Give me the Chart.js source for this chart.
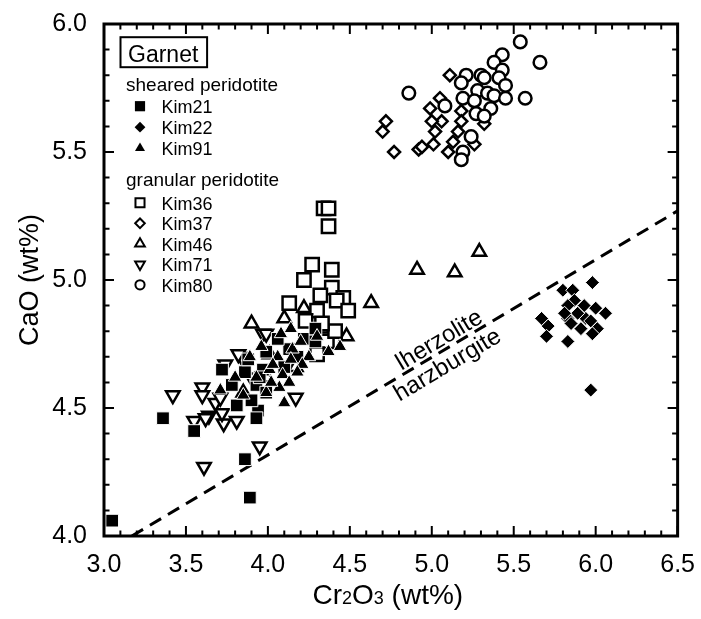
<!DOCTYPE html>
<html>
<head>
<meta charset="utf-8">
<script src="https://cdn.jsdelivr.net/npm/chart.js@4.4.1/dist/chart.umd.min.js"></script>
<style>
  html, body { margin: 0; padding: 0; background: #fff; }
</style>
</head>
<body>
<canvas id="garnetChart" width="701" height="619"></canvas>
<script>
// Garnet Cr2O3 vs CaO (wt%)

// sheared peridotite
const kim21X = [3.05, 3.36, 3.55, 3.86, 3.89, 3.72, 3.78, 3.86, 3.93, 3.97, 3.81, 3.94, 3.93, 3.99, 3.99, 3.95, 4.13, 4.22, 4.29, 4.29, 4.06, 3.90, 4.18, 3.88, 4.10];
const kim21Y = [4.06, 4.46, 4.41, 4.30, 4.15, 4.65, 4.59, 4.64, 4.59, 4.65, 4.51, 4.49, 4.46, 4.56, 4.72, 4.62, 4.73, 4.77, 4.81, 4.76, 4.77, 4.53, 4.70, 4.69, 4.66];

const kim22X = [5.98, 5.80, 5.86, 5.87, 5.83, 5.93, 6.00, 6.06, 5.67, 5.83, 5.94, 5.97, 5.71, 5.85, 5.91, 6.01, 5.70, 5.98, 5.83, 5.89, 5.81, 5.97];
const kim22Y = [4.99, 4.96, 4.96, 4.92, 4.90, 4.90, 4.89, 4.87, 4.85, 4.85, 4.85, 4.84, 4.82, 4.83, 4.81, 4.81, 4.78, 4.79, 4.76, 4.87, 4.87, 4.57];

const kim91X = [3.71, 3.89, 3.85, 4.14, 4.08, 4.37, 4.25, 4.15, 4.14, 4.21, 4.06, 4.01, 4.09, 4.18, 4.13, 4.07, 4.10, 3.99, 4.02, 3.93, 3.96, 4.20, 4.30, 4.44, 3.80, 4.03];
const kim91Y = [4.57, 4.70, 4.55, 4.81, 4.79, 4.72, 4.70, 4.73, 4.69, 4.67, 4.70, 4.65, 4.63, 4.64, 4.60, 4.58, 4.52, 4.56, 4.60, 4.62, 4.74, 4.76, 4.78, 4.74, 4.62, 4.67];

// granular peridotite
const kim36X = [4.34, 4.37, 4.37, 4.27, 4.39, 4.22, 4.39, 4.32, 4.46, 4.42, 4.49, 4.13, 4.30, 4.36, 4.23, 4.41, 4.30, 4.33];
const kim36Y = [5.28, 5.28, 5.21, 5.06, 5.04, 5.00, 4.97, 4.94, 4.93, 4.92, 4.88, 4.91, 4.88, 4.76, 4.84, 4.80, 4.71, 4.83];

const kim37X = [5.11, 5.05, 4.99, 4.72, 4.70, 5.06, 5.00, 5.18, 5.18, 5.16, 5.32, 5.02, 4.77, 4.92, 4.94, 5.01, 5.10, 5.13, 5.26];
const kim37Y = [5.80, 5.71, 5.67, 5.62, 5.58, 5.62, 5.62, 5.66, 5.62, 5.58, 5.61, 5.58, 5.50, 5.51, 5.52, 5.53, 5.50, 5.54, 5.53];

const kim46X = [3.90, 4.10, 4.22, 4.33, 4.48, 4.63, 4.91, 5.14, 5.29, 4.01, 3.85, 4.17, 3.99];
const kim46Y = [4.83, 4.85, 4.89, 4.81, 4.78, 4.91, 5.04, 5.03, 5.11, 4.71, 4.56, 4.66, 4.62];

const kim71X = [3.42, 3.60, 3.60, 3.68, 3.64, 3.55, 3.73, 3.81, 3.72, 3.95, 3.61, 3.84, 3.97, 4.17, 3.74, 3.82, 3.99, 3.71, 3.90, 3.62];
const kim71Y = [4.55, 4.58, 4.55, 4.52, 4.47, 4.45, 4.44, 4.45, 4.48, 4.35, 4.27, 4.70, 4.79, 4.54, 4.67, 4.71, 4.79, 4.54, 4.62, 4.46];

const kim80X = [5.54, 5.43, 5.66, 5.38, 5.43, 5.21, 5.30, 5.41, 5.32, 5.18, 5.45, 5.28, 4.86, 5.34, 5.38, 5.19, 5.45, 5.57, 5.26, 5.08, 5.36, 5.27, 5.32, 5.24, 5.19, 5.18];
const kim80Y = [5.93, 5.88, 5.85, 5.85, 5.82, 5.80, 5.80, 5.79, 5.79, 5.77, 5.76, 5.74, 5.73, 5.73, 5.72, 5.71, 5.71, 5.71, 5.70, 5.68, 5.67, 5.65, 5.64, 5.56, 5.50, 5.47];

// lherzolite / harzburgite boundary (end points)
const boundaryX = [3.17, 6.5];
const boundaryY = [4.0, 5.27];

// axes
const xTicks = [3.0, 3.5, 4.0, 4.5, 5.0, 5.5, 6.0, 6.5];
const xTickLabels = ['3.0', '3.5', '4.0', '4.5', '5.0', '5.5', '6.0', '6.5'];
const yTicks = [4.0, 4.5, 5.0, 5.5, 6.0];
const yTickLabels = ['4.0', '4.5', '5.0', '5.5', '6.0'];

// legend groups
const shearedNames = ['Kim21', 'Kim22', 'Kim91'];
const granularNames = ['Kim36', 'Kim37', 'Kim46', 'Kim71', 'Kim80'];

const FONT = "'Liberation Sans', Arial, Helvetica, sans-serif";

const pts = (xs, ys) => xs.map((x, i) => ({ x: x, y: ys[i] }));

// marker styles: chart markers and smaller legend markers
const styles = {
    Kim21: { pointStyle: 'rect', radius: 9.0, rotation: 0, fill: '#000', border: '#fff', bw: 1, order: 3, legR: 7.2, legBw: 0 },
    Kim22: { pointStyle: 'rectRot', radius: 7.0, rotation: 0, fill: '#000', border: '#fff', bw: 1, order: 1, legR: 5.4, legBw: 0 },
    Kim91: { pointStyle: 'triangle', radius: 7.8, rotation: 0, fill: '#000', border: '#fff', bw: 1, order: 2, legR: 5.8, legBw: 0 },
    Kim36: { pointStyle: 'rect', radius: 9.4, rotation: 0, fill: '#fff', border: '#000', bw: 2.5, order: 6, legR: 6.4, legBw: 2 },
    Kim37: { pointStyle: 'rectRot', radius: 6.0, rotation: 0, fill: '#fff', border: '#000', bw: 2.5, order: 5, legR: 4.8, legBw: 2 },
    Kim46: { pointStyle: 'triangle', radius: 7.8, rotation: 0, fill: '#fff', border: '#000', bw: 2.5, order: 8, legR: 5.6, legBw: 2 },
    Kim71: { pointStyle: 'triangle', radius: 7.8, rotation: 180, fill: '#fff', border: '#000', bw: 2.5, order: 7, legR: 5.6, legBw: 2 },
    Kim80: { pointStyle: 'circle', radius: 6.3, rotation: 0, fill: '#fff', border: '#000', bw: 2.5, order: 4, legR: 4.6, legBw: 2 }
};

const seriesData = {
    Kim21: pts(kim21X, kim21Y), Kim22: pts(kim22X, kim22Y), Kim91: pts(kim91X, kim91Y),
    Kim36: pts(kim36X, kim36Y), Kim37: pts(kim37X, kim37Y), Kim46: pts(kim46X, kim46Y),
    Kim71: pts(kim71X, kim71Y), Kim80: pts(kim80X, kim80Y)
};

function scatterSet(name) {
    const s = styles[name];
    return {
        type: 'scatter',
        label: name,
        data: seriesData[name],
        order: s.order,
        pointStyle: s.pointStyle,
        pointRadius: s.radius,
        pointHoverRadius: s.radius,
        pointRotation: s.rotation,
        pointBackgroundColor: s.fill,
        pointBorderColor: s.border,
        pointBorderWidth: s.bw,
        clip: false
    };
}

// frame with inward ticks on all four sides + x title with subscripts
const framePlugin = {
    id: 'frameTicks',
    afterDatasetsDraw(chart) {
        const { ctx, chartArea: a, scales } = chart;
        const xs = scales.x, ys = scales.y;
        ctx.save();
        ctx.strokeStyle = '#000';
        ctx.lineWidth = 2;
        ctx.beginPath();
        for (let i = 0; i <= 35; i++) {
            const px = xs.getPixelForValue(3 + i * 0.1);
            const len = i % 5 === 0 ? 10 : 5.5;
            ctx.moveTo(px, a.bottom); ctx.lineTo(px, a.bottom - len);
            ctx.moveTo(px, a.top); ctx.lineTo(px, a.top + len);
        }
        for (let i = 0; i <= 20; i++) {
            const py = ys.getPixelForValue(4 + i * 0.1);
            const len = i % 5 === 0 ? 10 : 5.5;
            ctx.moveTo(a.left, py); ctx.lineTo(a.left + len, py);
            ctx.moveTo(a.right, py); ctx.lineTo(a.right - len, py);
        }
        ctx.stroke();
        ctx.lineWidth = 3;
        ctx.strokeRect(a.left, a.top, a.right - a.left, a.bottom - a.top);

        // x axis title: Cr2O3 (wt%)
        const parts = [['Cr', 28], ['2', 18], ['O', 28], ['3', 18], [' (wt%)', 28]];
        let total = 0;
        parts.forEach(p => { ctx.font = `${p[1]}px ${FONT}`; total += ctx.measureText(p[0]).width; });
        let tx = (a.left + a.right) / 2 - total / 2 - 3;
        const ty = 604;
        ctx.fillStyle = '#000';
        ctx.textBaseline = 'alphabetic';
        ctx.textAlign = 'left';
        parts.forEach(p => {
            ctx.font = `${p[1]}px ${FONT}`;
            ctx.fillText(p[0], tx, ty);
            tx += ctx.measureText(p[0]).width;
        });

        // boundary labels, rotated along the dashed line
        const p0x = xs.getPixelForValue(boundaryX[0]), p0y = ys.getPixelForValue(boundaryY[0]);
        const p1x = xs.getPixelForValue(boundaryX[1]), p1y = ys.getPixelForValue(boundaryY[1]);
        const ang = Math.atan2(p1y - p0y, p1x - p0x);
        const onLine = (xv) => {
            const t = (xs.getPixelForValue(xv) - p0x) / (p1x - p0x);
            return [p0x + t * (p1x - p0x), p0y + t * (p1y - p0y)];
        };
        ctx.font = `24px ${FONT}`;
        ctx.textAlign = 'center';
        let q = onLine(5.08);
        ctx.save();
        ctx.translate(q[0], q[1]);
        ctx.rotate(ang);
        ctx.textBaseline = 'alphabetic';
        ctx.fillText('lherzolite', 0, -4);
        ctx.restore();
        q = onLine(5.05);
        ctx.save();
        ctx.translate(q[0], q[1]);
        ctx.rotate(ang);
        ctx.textBaseline = 'top';
        ctx.fillText('harzburgite', 0, 3);
        ctx.restore();
        ctx.restore();
    }
};

// legend box in the upper left corner
const legendPlugin = {
    id: 'garnetLegend',
    afterDatasetsDraw(chart) {
        const { ctx, chartArea: a } = chart;
        const x0 = a.left, y0 = a.top;
        ctx.save();
        ctx.fillStyle = '#000';
        ctx.strokeStyle = '#000';
        ctx.lineWidth = 2;
        ctx.strokeRect(x0 + 16.5, y0 + 13.2, 86.6, 30);
        ctx.textAlign = 'left';
        ctx.textBaseline = 'alphabetic';
        ctx.font = `23px ${FONT}`;
        ctx.fillText('Garnet', x0 + 24, y0 + 38.2);

        ctx.font = `19px ${FONT}`;
        ctx.fillText('sheared peridotite', x0 + 22, y0 + 66.5);
        ctx.fillText('granular peridotite', x0 + 22, y0 + 161.5);

        const drawRow = (name, my) => {
            const s = styles[name];
            ctx.fillStyle = s.legBw > 0 ? '#fff' : '#000';
            ctx.strokeStyle = '#000';
            ctx.lineWidth = s.legBw;
            Chart.helpers.drawPoint(ctx, {
                pointStyle: s.pointStyle, radius: s.legR, rotation: s.rotation, borderWidth: s.legBw
            }, x0 + 36, my);
            ctx.fillStyle = '#000';
            ctx.font = `18px ${FONT}`;
            ctx.fillText(name, x0 + 57.5, my + 7);
        };
        shearedNames.forEach((n, i) => drawRow(n, y0 + 82.2 + i * 21));
        granularNames.forEach((n, i) => drawRow(n, y0 + 178.8 + i * 20.5));
        ctx.restore();
    }
};

const datasets = [
    {
        type: 'line',
        label: 'boundary',
        data: pts(boundaryX, boundaryY),
        borderColor: '#000',
        borderWidth: 3,
        borderDash: [13, 8],
        pointRadius: 0,
        fill: false,
        order: 100
    }
].concat(shearedNames.concat(granularNames).map(scatterSet));

new Chart(document.getElementById('garnetChart'), {
    type: 'scatter',
    data: { datasets: datasets },
    options: {
        responsive: false,
        animation: false,
        devicePixelRatio: 1,
        layout: { padding: { left: 0, right: 21, top: 18.5, bottom: 0 } },
        scales: {
            x: {
                type: 'linear', min: 3.0, max: 6.5,
                grid: { display: false },
                border: { display: false },
                afterBuildTicks: (s) => { s.ticks = xTicks.map(v => ({ value: v })); },
                afterFit: (s) => { s.height = 83; },
                ticks: {
                    color: '#000', padding: 6, maxRotation: 0, autoSkip: false,
                    font: { family: FONT, size: 25 },
                    callback: (v, i) => xTickLabels[i]
                },
                title: { display: false }
            },
            y: {
                type: 'linear', min: 4.0, max: 6.0,
                grid: { display: false },
                border: { display: false },
                afterBuildTicks: (s) => { s.ticks = yTicks.map(v => ({ value: v })); },
                afterFit: (s) => { s.width = 104; },
                ticks: {
                    color: '#000', padding: 9, autoSkip: false,
                    font: { family: FONT, size: 25 },
                    callback: (v, i) => yTickLabels[i]
                },
                title: {
                    display: true, text: 'CaO (wt%)', color: '#000',
                    font: { family: FONT, size: 27 },
                    padding: { top: 14.8, bottom: 0 }
                }
            }
        },
        plugins: {
            legend: { display: false },
            tooltip: { enabled: false }
        }
    },
    plugins: [framePlugin, legendPlugin]
});
</script>
</body>
</html>
